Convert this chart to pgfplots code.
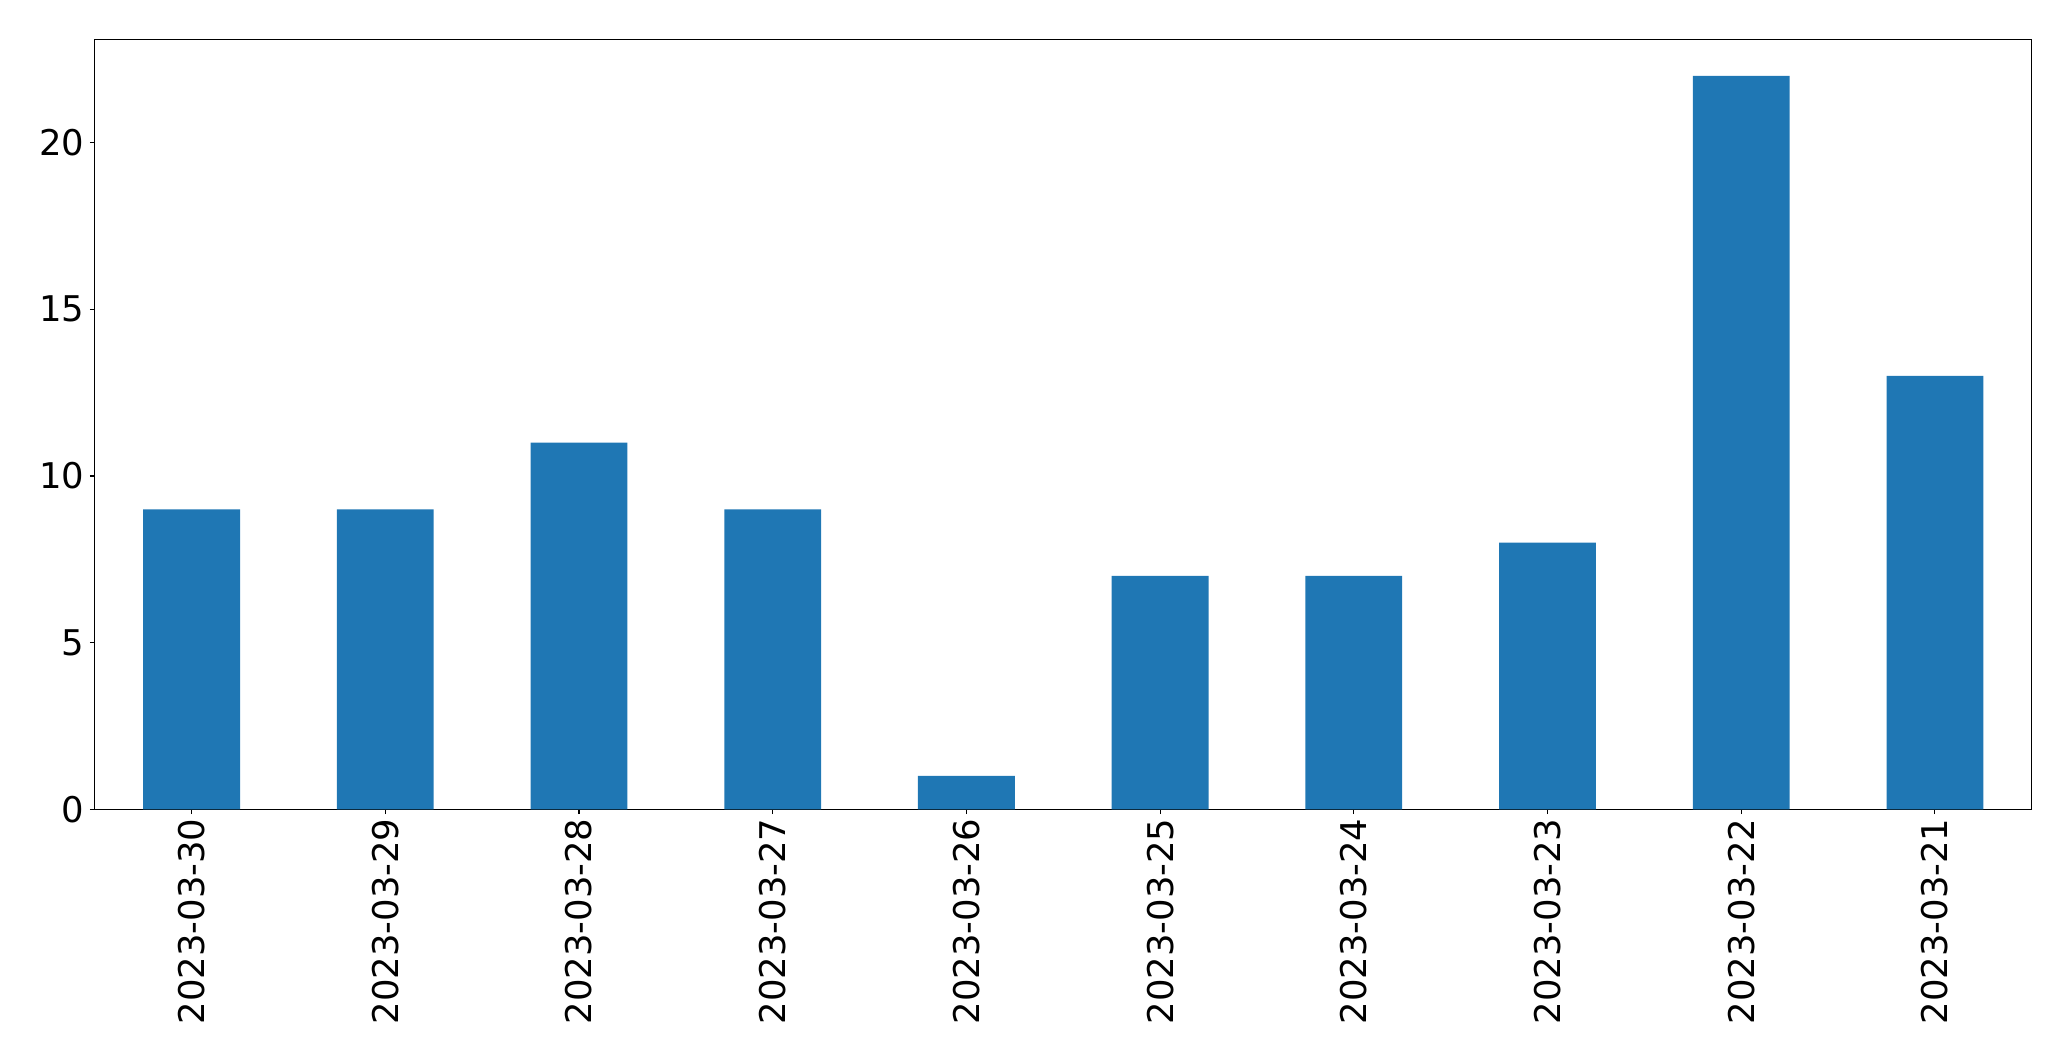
\documentclass[border=0pt]{standalone}
\usepackage{pgfplots}
\pgfplotsset{compat=1.18}
\usepackage{fontspec}
\setmainfont{DejaVu Sans}
\definecolor{mplblue}{HTML}{1F77B4}
\begin{document}
\begin{tikzpicture}
\path[use as bounding box] (-68.2pt,-181.2pt) rectangle (1422.9pt,582.7pt);
\begin{axis}[
  at={(0,0)}, anchor=south west,
  scale only axis,
  width=1394.6pt, height=554.4pt,
  xmin=-0.5, xmax=9.5,
  ymin=0, ymax=23.1,
  xtick={0,...,9},
  xticklabels={2023-03-30,2023-03-29,2023-03-28,2023-03-27,2023-03-26,2023-03-25,2023-03-24,2023-03-23,2023-03-22,2023-03-21},
  ytick={0,5,10,15,20},
  tick align=outside,
  major tick length=3.5pt,
  tick style={line width=0.8pt, black},
  xtick pos=bottom, ytick pos=left,
  axis line style={line width=0.8pt},
  font=\fontsize{25.5pt}{30pt}\selectfont,
  /pgf/number format/assume math mode=true,
  yticklabel style={inner sep=0pt, xshift=-3.9pt},
  xticklabel style={rotate=90, anchor=east, inner sep=0pt},
  xticklabel shift=2.9pt,
]
\addplot[ybar, bar width=0.5, fill=mplblue, draw=none] coordinates {
(0,9) (1,9) (2,11) (3,9) (4,1) (5,7) (6,7) (7,8) (8,22) (9,13)
};
\end{axis}
\end{tikzpicture}
\end{document}
